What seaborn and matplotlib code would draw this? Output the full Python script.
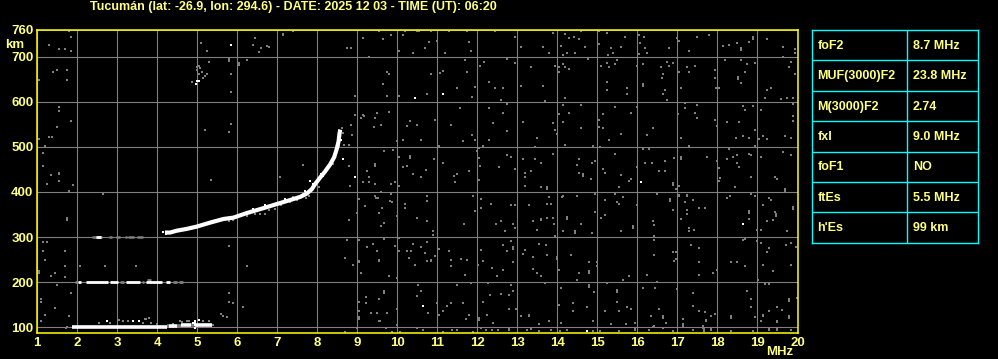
import numpy as np
import pandas as pd
import matplotlib
matplotlib.use("Agg")
import matplotlib.pyplot as plt
import seaborn as sns

# ---------------- data ----------------
title = "Tucumán (lat: -26.9, lon: 294.6) - DATE: 2025 12 03 - TIME (UT): 06:20"
x_ticks = list(range(1, 21))
y_ticks = [100, 200, 300, 400, 500, 600, 700, 760]
table_labels = ["foF2", "MUF(3000)F2", "M(3000)F2", "fxI", "foF1", "ftEs", "h'Es"]
table_values = ["8.7 MHz", "23.8 MHz", "2.74", "9.0 MHz", "NO", "5.5 MHz", "99 km"]

# F2 trace (frequency MHz, virtual height km)
f2_freq = [4.19, 4.32, 4.48, 4.73, 4.98, 5.32, 5.65, 5.90, 6.23, 6.65, 6.98, 7.32,
           7.57, 7.73, 7.86, 7.94, 8.07, 8.19, 8.32, 8.42, 8.48, 8.53, 8.55, 8.57]
f2_height = [310, 310, 314, 318, 323, 332, 340, 343, 353, 364, 373, 382,
             389, 396, 406, 417, 432, 445, 461, 477, 494, 512, 527, 538]
f2_grey = [(7.98, 424), (7.90, 413), (8.03, 411), (8.28, 457), (8.36, 468), (8.40, 461),
           (8.44, 479), (8.53, 501), (6.23, 347), (6.57, 351), (6.69, 351), (6.94, 362),
           (7.32, 377), (7.40, 389), (7.72, 387), (7.65, 395), (5.80, 335), (5.90, 337),
           (8.55, 538), (8.61, 542), (8.65, 531), (8.67, 504), (8.80, 504), (8.78, 457),
           (6.45, 350), (6.80, 360), (7.10, 370), (7.50, 382), (7.80, 392)]
f2_white_pts = [(7.82, 424), (7.88, 417), (7.78, 400), (7.70, 402), (8.10, 440),
                (8.15, 436), (6.70, 370), (6.40, 362), (7.20, 384), (4.22, 306), (4.15, 312)]

# Es trace and its multiple hops: (start MHz, end MHz, height km)
es_white = [(1.86, 4.25, 101.5), (4.30, 4.50, 103), (4.60, 4.85, 104), (4.95, 5.36, 105)]
es_grey = [(4.25, 4.30, 102), (4.50, 4.60, 103), (4.85, 4.95, 104)]
es_grey_pts = [(2.55, 109), (2.82, 110), (3.03, 116), (3.15, 113), (3.27, 115), (3.69, 118),
               (3.78, 120), (3.65, 110), (3.83, 109), (3.98, 107), (4.40, 108), (4.57, 113),
               (4.73, 115), (4.78, 113), (5.15, 113), (5.28, 113), (5.40, 105), (1.73, 101),
               (3.72, 118), (4.62, 112)]
es_white_pts = [(2.73, 113), (3.40, 113), (3.53, 113), (4.90, 110), (5.03, 116),
                (4.93, 99), (4.93, 104), (4.93, 109), (4.93, 113)]
hop2_white = [(2.02, 2.08, 201), (2.22, 2.77, 201), (2.82, 3.02, 201), (3.22, 3.57, 201),
              (3.72, 4.12, 201), (4.22, 4.32, 201)]
hop2_grey = [(1.95, 2.00, 201), (3.07, 3.17, 201), (3.62, 3.67, 201), (4.40, 4.48, 201),
             (4.55, 4.65, 201), (3.75, 3.85, 204)]
hop3_grey = [(2.36, 2.61, 301), (2.78, 2.86, 301), (2.97, 3.07, 301), (3.19, 3.23, 301),
             (3.27, 3.42, 301), (3.48, 3.65, 301)]
hop3_white = [(2.46, 2.58, 301)]

# scattered white echoes
white_dots = [(5.83, 726), (10.44, 609), (11.15, 618), (18.63, 328), (16.08, 423),
              (14.73, 91), (10.63, 147), (8.94, 432), (8.63, 474), (4.98, 646),
              (5.02, 646), (5.05, 646), (4.96, 639), (8.57, 522), (8.60, 515)]

# scattered grey noise, upper part of the ionogram
noise_upper = [
    (1.03, 648), (1.29, 726), (1.38, 665), (1.5, 670), (1.54, 717), (1.69, 717), (1.73, 670),
    (1.73, 648), (1.79, 757), (1.83, 744), (1.83, 713), (1.54, 589), (1.54, 580), (5.08, 730),
    (5.23, 713), (5.29, 687), (5.78, 690), (5.78, 695), (5.83, 661), (5.83, 621), (6.03, 681),
    (6.03, 686), (6.23, 693), (6.44, 742), (6.4, 726), (6.58, 720), (6.53, 710), (6.73, 724),
    (6.79, 721), (7.13, 747), (7.13, 751), (7.38, 757), (8.73, 720), (8.83, 720), (8.93, 613),
    (9.13, 742), (9.29, 698), (9.54, 757), (9.65, 739), (9.79, 661), (9.84, 747), (9.74, 665),
    (9.63, 639), (9.73, 612), (10.05, 612), (10.05, 713), (10.15, 748), (10.19, 756),
    (10.4, 707), (10.5, 757), (10.54, 756), (10.78, 733), (10.69, 720), (10.83, 757),
    (10.73, 616), (10.84, 661), (10.98, 735), (11.06, 663), (11.13, 668), (11.19, 707),
    (11.3, 757), (11.48, 630), (11.57, 587), (11.7, 693), (11.75, 757), (11.75, 665),
    (11.8, 733), (11.84, 713), (11.86, 611), (11.94, 633), (12.07, 678), (12.17, 689),
    (12.3, 643), (12.3, 587), (12.44, 757), (12.44, 631), (8.93, 570), (9.13, 570),
    (9.5, 574), (9.78, 578), (5.0, 670), (5.07, 674), (5.05, 661), (5.15, 652), (5.19, 658),
    (5.23, 661), (4.86, 644), (5.11, 665), (5.0, 676), (5.05, 680),
    (12.73, 758), (12.94, 744), (13.08, 722), (13.65, 722), (13.8, 709), (13.88, 753),
    (14.08, 724), (14.19, 750), (14.29, 742), (14.38, 759), (14.42, 744), (14.53, 740),
    (14.58, 757), (14.69, 722), (14.44, 709), (14.23, 709), (14.13, 703), (14.77, 694),
    (15.03, 757), (15.23, 752), (15.03, 727), (15.33, 718), (15.4, 709), (15.27, 703),
    (15.58, 722), (15.69, 744), (16.03, 747), (16.07, 730), (16.2, 718), (16.23, 709),
    (16.03, 705), (16.17, 744), (16.78, 718), (16.98, 742), (17.05, 735), (17.28, 713),
    (17.48, 744), (17.8, 747), (18.13, 724), (18.28, 725), (18.48, 730), (18.58, 715),
    (18.58, 720), (18.78, 733), (18.88, 744), (18.88, 740), (19.23, 739), (19.63, 722),
    (19.73, 758), (19.94, 716), (19.94, 709),
    (12.73, 694), (12.94, 685), (13.33, 676), (13.94, 679), (14.03, 676), (14.03, 665),
    (14.15, 683), (14.19, 676), (14.29, 672), (15.08, 679), (15.23, 685), (15.3, 676),
    (15.48, 693), (15.44, 683), (15.23, 644), (15.23, 627), (15.73, 631), (15.73, 616),
    (15.98, 679), (16.15, 635), (16.15, 639), (16.13, 684), (16.59, 676), (16.63, 661),
    (16.61, 653), (16.73, 688), (16.78, 679), (16.88, 685), (16.69, 627), (16.63, 616),
    (16.73, 604), (17.05, 666), (17.08, 631), (17.23, 676), (17.3, 666), (17.44, 679),
    (17.94, 670), (17.94, 653), (17.97, 631), (18.05, 631), (18.19, 693), (18.52, 651),
    (18.52, 655), (18.58, 693), (18.58, 641), (18.69, 666), (18.74, 683), (18.93, 685),
    (19.23, 627), (19.33, 631), (19.63, 698), (19.8, 676), (19.83, 688), (19.94, 661),
    (19.18, 609), (19.58, 607), (19.73, 609), (19.88, 609), (12.58, 604), (12.63, 631),
    (13.08, 635), (13.65, 635), (13.69, 601), (14.19, 609),
    (12.73, 594), (12.63, 576), (13.13, 554), (12.73, 534), (13.48, 519), (13.88, 553),
    (13.94, 537), (13.98, 529), (14.13, 593), (14.03, 573), (14.13, 554), (14.3, 576),
    (14.58, 592), (14.6, 542), (15.03, 559), (15.05, 545), (15.13, 573), (15.13, 542),
    (15.44, 589), (15.58, 529), (15.28, 515), (15.83, 576), (15.98, 588), (16.23, 527),
    (16.38, 542), (17.08, 519), (17.02, 573), (17.19, 597), (17.19, 586), (17.48, 593),
    (17.44, 576), (17.48, 564), (17.94, 559), (17.98, 547), (18.25, 554), (18.53, 554),
    (18.65, 591), (18.69, 581), (18.88, 590), (19.08, 581), (18.47, 519), (18.63, 523),
    (18.8, 519), (18.93, 537), (19.05, 518), (19.15, 523), (19.23, 518), (19.68, 523),
    (19.83, 519), (19.9, 594), (19.88, 568), (19.9, 557),
    (1.13, 487), (1.15, 457), (1.03, 518), (1.19, 501), (1.28, 521), (1.36, 521), (1.48, 543),
    (1.83, 557), (5.19, 538), (5.8, 533), (5.83, 551), (8.83, 549), (8.86, 527), (9.08, 563),
    (9.17, 568), (9.43, 563), (9.42, 543), (9.58, 548), (9.98, 513), (10.13, 516),
    (10.25, 546), (10.32, 557), (10.48, 548), (10.58, 516), (10.94, 560), (11.03, 501),
    (11.33, 548), (11.63, 513), (11.86, 527), (11.94, 516), (12.15, 501), (12.3, 516),
    (12.4, 553)]

# scattered grey noise, middle part
noise_middle = [
    (1.25, 418), (1.33, 437), (1.53, 439), (1.53, 443), (1.53, 424), (1.88, 415), (1.8, 402),
    (2.63, 396), (1.73, 338), (1.73, 342), (5.33, 427), (7.07, 433), (7.63, 460), (1.13, 288),
    (1.25, 288), (1.13, 270), (1.19, 249), (1.69, 268), (5.79, 281),
    (8.78, 457), (8.82, 413), (9.25, 446), (9.43, 457), (9.43, 461), (9.3, 433), (9.13, 421),
    (9.28, 421), (9.45, 417), (9.67, 490), (9.88, 494), (9.83, 417), (9.94, 421), (10.03, 413),
    (10.05, 477), (10.15, 455), (10.25, 457), (10.32, 476), (10.32, 480), (10.38, 440),
    (10.58, 433), (10.72, 448), (10.92, 472), (11.13, 465), (11.42, 435), (11.48, 439),
    (11.78, 446), (12.0, 490), (12.03, 498), (12.05, 476), (12.07, 457), (12.55, 455),
    (12.03, 426), (11.44, 421),
    (8.78, 338), (9.03, 384), (8.98, 354), (9.19, 369), (9.43, 391), (9.6, 399), (9.47, 387),
    (9.52, 387), (9.55, 354), (9.62, 364), (9.67, 332), (9.6, 325), (9.83, 395), (9.82, 379),
    (9.86, 377), (9.98, 347), (10.19, 373), (10.19, 365), (10.48, 342), (10.73, 391),
    (10.75, 379), (10.73, 335), (10.88, 313), (10.9, 305), (11.67, 330), (11.88, 391),
    (11.94, 357), (12.1, 384), (12.1, 364), (12.33, 374), (12.47, 329),
    (8.73, 293), (9.03, 293), (8.68, 254), (9.03, 246), (9.23, 277), (9.38, 285), (9.5, 268),
    (9.55, 249), (9.67, 296), (9.94, 281), (10.05, 270), (10.05, 298), (10.23, 270),
    (10.33, 268), (10.38, 285), (10.3, 254), (10.58, 279), (10.73, 290), (10.68, 265),
    (10.83, 249), (10.93, 258), (11.03, 273), (11.3, 270), (11.33, 249), (11.58, 251),
    (11.73, 249), (12.13, 248), (12.1, 271),
    (12.73, 482), (12.83, 478), (12.94, 451), (13.13, 473), (13.44, 473), (13.58, 465),
    (13.33, 447), (13.19, 441), (13.19, 434), (13.19, 414), (13.58, 410), (13.73, 407),
    (13.73, 411), (13.88, 485), (13.44, 499), (14.19, 504), (14.55, 473), (14.5, 460),
    (14.63, 436), (14.63, 440), (14.55, 443), (14.86, 465), (14.94, 469), (14.83, 429),
    (14.9, 502), (15.07, 499), (15.44, 485), (15.15, 451), (15.19, 443), (15.58, 438),
    (15.55, 410), (15.78, 424), (15.83, 429), (15.98, 456), (16.15, 495), (16.3, 495),
    (16.19, 465), (16.36, 465), (16.53, 447), (16.69, 469), (16.69, 447), (16.92, 476),
    (16.9, 416), (16.9, 420), (16.97, 407), (17.08, 473), (17.08, 477), (17.03, 414),
    (17.29, 502), (17.75, 478), (17.98, 469), (18.05, 454), (18.07, 431), (18.05, 424),
    (18.28, 495), (18.25, 473), (18.4, 478), (18.48, 465), (18.5, 482), (18.55, 456),
    (18.78, 485), (18.83, 482), (18.83, 434), (18.93, 502), (19.08, 478), (18.44, 410),
    (19.44, 434), (19.48, 429), (19.63, 488), (19.83, 482), (19.69, 403), (19.69, 407),
    (12.83, 370), (12.94, 370), (13.3, 370), (13.8, 388), (13.73, 374), (13.83, 374),
    (14.13, 390), (14.11, 388), (14.5, 392), (14.94, 396), (15.19, 382), (15.5, 377),
    (15.55, 374), (15.64, 388), (15.44, 396), (15.98, 370), (16.48, 396), (16.82, 381),
    (16.82, 385), (17.03, 390), (17.03, 394), (16.9, 360), (17.23, 390), (17.23, 394),
    (17.38, 382), (17.19, 377), (17.23, 360), (17.23, 351), (17.53, 365), (17.69, 365),
    (18.23, 387), (18.32, 390), (18.83, 396), (18.93, 392), (19.28, 387), (19.33, 382),
    (19.15, 370), (19.44, 355), (19.47, 346), (19.47, 350), (19.4, 338), (19.9, 362),
    (19.9, 366), (18.78, 353), (18.78, 357), (18.78, 340), (19.23, 335), (19.0, 316),
    (19.1, 316), (19.73, 313), (12.58, 335), (12.68, 313), (12.9, 329), (12.94, 320),
    (13.38, 335), (13.48, 316), (13.58, 337), (13.58, 341), (13.73, 343), (13.88, 343),
    (13.92, 329), (13.94, 303), (14.23, 340), (14.23, 344), (14.13, 313), (14.44, 309),
    (14.44, 313), (14.58, 329), (14.86, 309), (14.94, 355), (15.08, 343), (15.19, 348),
    (15.58, 313), (15.9, 320), (15.9, 324), (16.38, 335), (16.42, 326), (16.42, 303),
    (17.08, 340), (17.3, 320), (17.3, 313), (17.41, 316), (16.88, 359),
    (12.63, 282), (12.73, 269), (12.88, 274), (12.88, 278), (12.83, 291), (13.13, 263),
    (13.19, 272), (13.55, 285), (13.72, 282), (13.4, 256), (13.73, 260), (13.98, 252),
    (13.98, 256), (14.33, 260), (16.42, 294), (16.42, 260), (16.88, 267), (16.96, 267),
    (16.96, 252), (17.35, 282), (17.55, 276), (18.63, 294), (18.69, 296), (19.0, 291),
    (19.08, 287), (19.28, 276), (19.23, 267), (19.71, 282), (19.83, 287), (19.96, 278)]

# scattered grey noise, lower part
noise_lower = [
    (1.03, 220), (1.03, 224), (1.08, 162), (1.08, 155), (1.19, 127), (1.08, 115), (1.33, 213),
    (1.44, 220), (1.68, 235), (1.69, 211), (1.5, 194), (1.83, 177), (1.44, 142), (1.78, 125),
    (2.07, 235), (2.69, 236), (3.47, 235), (5.78, 177), (5.8, 155), (5.9, 153), (6.13, 144),
    (5.6, 130), (5.65, 125), (5.73, 122), (6.23, 235), (8.88, 239), (9.03, 244), (9.03, 248),
    (9.08, 220), (9.53, 248), (9.78, 214), (9.98, 209), (9.67, 176), (9.67, 180), (9.55, 162),
    (9.22, 167), (9.22, 153), (9.03, 155), (9.03, 135), (9.03, 118), (9.03, 122), (9.33, 131),
    (9.48, 131), (9.57, 113), (9.73, 131), (9.55, 115), (9.98, 140), (10.0, 105),
    (10.48, 170), (10.52, 194), (10.58, 181), (10.77, 131), (11.0, 153), (11.03, 127),
    (11.23, 147), (11.15, 135), (10.44, 239), (10.73, 246), (10.85, 246), (11.33, 235),
    (11.33, 153), (11.65, 153), (11.69, 216), (11.5, 194), (11.83, 199), (11.8, 127),
    (11.71, 118), (12.02, 239), (12.13, 157), (12.27, 199), (12.32, 172), (12.36, 231),
    (12.48, 214), (12.25, 127), (12.38, 109), (12.05, 116), (12.05, 120),
    (8.69, 90), (9.0, 98), (9.72, 98), (9.86, 90), (10.07, 90), (10.48, 98), (10.63, 93),
    (11.13, 90), (11.36, 93), (11.5, 95), (11.9, 90), (12.1, 98), (12.22, 93), (12.36, 95),
    (12.52, 94), (1.72, 98),
    (12.63, 226), (12.88, 244), (13.38, 229), (13.5, 220), (13.58, 213), (13.69, 199),
    (14.03, 227), (14.54, 221), (14.78, 220), (14.78, 224), (14.78, 244), (14.98, 244),
    (14.99, 235), (14.48, 205), (15.23, 199), (15.63, 205), (15.78, 214), (16.23, 216),
    (16.48, 201), (16.92, 248), (17.53, 244), (17.55, 216), (17.88, 220), (17.98, 227),
    (18.33, 244), (18.48, 244), (18.69, 236), (19.15, 238), (19.38, 224), (19.83, 238),
    (19.02, 204), (19.18, 196), (19.28, 196),
    (12.83, 194), (12.88, 181), (12.78, 172), (12.58, 174), (12.78, 140), (12.97, 140),
    (13.08, 125), (13.3, 124), (13.3, 128), (13.55, 107), (13.8, 113), (14.08, 187),
    (14.03, 150), (14.08, 109), (14.38, 153), (14.38, 135), (14.73, 144), (14.88, 113),
    (14.8, 189), (14.8, 193), (14.92, 179), (15.48, 179), (15.48, 183), (15.48, 157),
    (15.53, 135), (15.73, 144), (15.83, 140), (15.19, 135), (15.33, 107), (15.72, 107),
    (15.94, 109), (16.15, 187), (16.44, 187), (16.53, 140), (16.63, 120), (16.63, 124),
    (16.72, 109), (16.42, 103), (16.33, 125), (16.98, 184), (17.13, 118), (17.15, 103),
    (17.15, 107), (17.38, 177), (17.38, 147), (17.55, 135), (17.69, 133), (17.83, 125),
    (17.72, 113), (17.72, 117), (17.63, 98), (17.63, 102), (17.93, 130), (18.33, 120),
    (18.33, 124), (18.73, 181), (18.83, 162), (18.83, 144), (18.93, 122), (19.08, 113),
    (19.13, 124), (19.13, 128), (19.3, 135), (19.48, 146), (19.48, 111), (19.48, 115),
    (19.61, 138), (19.78, 159), (19.78, 163), (19.78, 120), (19.78, 124), (19.98, 164),
    (12.78, 93), (12.78, 97), (13.23, 93), (13.33, 96), (13.55, 91), (13.83, 93), (14.07, 91),
    (14.23, 94), (14.88, 91), (15.07, 91), (15.53, 91), (15.94, 94), (15.94, 98), (16.28, 93),
    (16.38, 101), (16.65, 98), (16.88, 91), (17.4, 93), (17.67, 96), (17.67, 92),
    (17.83, 93), (17.83, 97), (18.33, 91), (18.88, 91), (19.28, 93), (19.28, 97),
    (19.48, 93), (19.48, 97), (19.83, 94)]

# ---------------- styling ----------------
sns.set_theme(style="dark")
plt.rcParams["font.family"] = ["Liberation Sans", "DejaVu Sans"]
plt.rcParams["font.weight"] = "bold"

YEL_TXT = "#ffff80"
YEL_AX = "#ffff00"
GREY = "#7f7f7f"
CYAN = "#00ffff"

W, H = 998, 359
fig = plt.figure(figsize=(W / 100, H / 100), dpi=100, facecolor="black")

def fx(px):
    return px / W

def fy(py):
    return 1 - py / H

left, right, top, bottom = 37.3, 797.5, 29.5, 332.7
ax = fig.add_axes([fx(left), fy(bottom), (right - left) / W, (bottom - top) / H])
ax.set_facecolor("black")

# noise
noise = pd.DataFrame(noise_upper + noise_middle + noise_lower + es_grey_pts + f2_grey,
                     columns=["freq", "height"])
sns.scatterplot(data=noise, x="freq", y="height", ax=ax, marker="s", s=3.2,
                color=GREY, linewidth=0, zorder=3)
wd = pd.DataFrame(white_dots + es_white_pts + f2_white_pts, columns=["freq", "height"])
sns.scatterplot(data=wd, x="freq", y="height", ax=ax, marker="s", s=3.6,
                color="white", linewidth=0, zorder=5)

def seg_frame(segs):
    rows = []
    for i, (a, b, h) in enumerate(segs):
        rows.append((i, a, h))
        rows.append((i, b, h))
    return pd.DataFrame(rows, columns=["seg", "freq", "height"])

for segs, col, lw, z in [(es_grey, GREY, 2.6, 3), (hop2_grey, GREY, 2.0, 3),
                         (hop3_grey, GREY, 1.8, 3), (es_white, "white", 2.6, 4),
                         (hop2_white, "white", 2.0, 4), (hop3_white, "white", 2.0, 4)]:
    d = seg_frame(segs)
    sns.lineplot(data=d, x="freq", y="height", units="seg", estimator=None, sort=False,
                 ax=ax, color=col, lw=lw, solid_capstyle="butt", zorder=z, legend=False)

f2 = pd.DataFrame({"freq": f2_freq, "height": f2_height})
sns.lineplot(data=f2, x="freq", y="height", estimator=None, sort=False, ax=ax,
             color="white", lw=3.0, solid_capstyle="butt", zorder=4)

ax.set_xlim(1, 20)
ax.set_ylim(88, 760)
ax.set_xticks(x_ticks)
ax.set_yticks(y_ticks)
ax.set_xticklabels([str(v) for v in x_ticks])
ax.set_yticklabels([str(v) for v in y_ticks])
ax.set_xlabel("")
ax.set_ylabel("")
ax.grid(True, color=GREY, lw=0.8)
ax.set_axisbelow(True)
ax.tick_params(axis="both", length=0, colors=YEL_TXT, labelsize=9.5)
ax.tick_params(axis="x", pad=3.2)
ax.tick_params(axis="y", pad=2.8)
for lab in ax.get_xticklabels() + ax.get_yticklabels():
    lab.set_fontweight("bold")
for sp in ax.spines.values():
    sp.set_visible(True)
    sp.set_color(YEL_AX)
    sp.set_linewidth(1.1)
    sp.set_zorder(6)

fig.text(fx(90), fy(7.2), title, color=YEL_TXT, fontsize=9.0, fontweight="bold",
         ha="left", va="center")
fig.text(fx(5.5), fy(45.5), "km", color=YEL_TXT, fontsize=9.5, fontweight="bold",
         ha="left", va="center")
fig.text(fx(780), fy(352), "MHz", color=YEL_TXT, fontsize=9.5, fontweight="bold",
         ha="center", va="center")

# parameter table
tl, tr, tt, tb = 812.3, 977.7, 30.0, 242.7
tax = fig.add_axes([fx(tl), fy(tb), (tr - tl) / W, (tb - tt) / H])
tax.set_facecolor("black")
tax.set_xlim(0, 1)
tax.set_ylim(len(table_labels), 0)
tax.set_xticks([])
tax.set_yticks([])
for sp in tax.spines.values():
    sp.set_color(CYAN)
    sp.set_linewidth(1.0)
col_split = (907.3 - tl) / (tr - tl)
tax.axvline(col_split, color=CYAN, lw=1.0)
for i in range(1, len(table_labels)):
    tax.axhline(i, color=CYAN, lw=1.0)
for i, (lab, val) in enumerate(zip(table_labels, table_values)):
    tax.text(0.03, i + 0.52, lab, color=YEL_TXT, fontsize=9, fontweight="bold",
             ha="left", va="center")
    tax.text(col_split + 0.033, i + 0.52, val, color=YEL_TXT, fontsize=9,
             fontweight="bold", ha="left", va="center")

fig.savefig("out.png", dpi=100, facecolor="black")
